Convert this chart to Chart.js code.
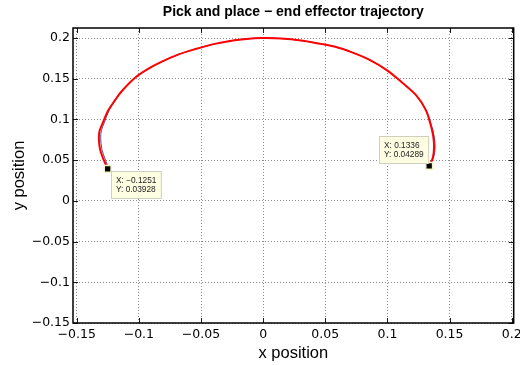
<!DOCTYPE html>
<html>
<head>
<meta charset="utf-8">
<script src="https://cdn.jsdelivr.net/npm/chart.js@4"></script>
<style>
  html, body { margin: 0; padding: 0; background: #ffffff; }
  #wrap { width: 520px; height: 365px; }
</style>
</head>
<body>
<div id="wrap"><canvas id="c" width="520" height="365"></canvas></div>
<script>
// ---- data ----
const actualX = [-0.1251, -0.1282, -0.1312, -0.1322, -0.1316, -0.1292, -0.1247, -0.1190, -0.1140, -0.1033, -0.0926, -0.0819, -0.0685, -0.0551, -0.0390, -0.0230, -0.0070, 0.0010, 0.0144, 0.0305, 0.0465, 0.0572, 0.0693, 0.0853, 0.1000, 0.1120, 0.1232, 0.1308, 0.1345, 0.1368, 0.1375, 0.1365, 0.1336];
const actualY = [0.0393, 0.0500, 0.0630, 0.0770, 0.0860, 0.0953, 0.1110, 0.1240, 0.1343, 0.1509, 0.1620, 0.1706, 0.1796, 0.1862, 0.1928, 0.1973, 0.1998, 0.2000, 0.1994, 0.1969, 0.1928, 0.1895, 0.1837, 0.1735, 0.1600, 0.1450, 0.1295, 0.1117, 0.0950, 0.0800, 0.0660, 0.0530, 0.0429];

const desiredX = [-0.1244, -0.1268, -0.1297, -0.1307, -0.1302, -0.1280, -0.1240, -0.1186, -0.1140, -0.1033, -0.0926, -0.0819, -0.0685, -0.0551, -0.0390, -0.0230, -0.0070, 0.0010, 0.0144, 0.0305, 0.0465, 0.0572, 0.0693, 0.0853, 0.1000, 0.1120, 0.1232, 0.1310, 0.1350, 0.1375, 0.1383, 0.1371, 0.1339];
const desiredY = [0.0398, 0.0500, 0.0630, 0.0770, 0.0860, 0.0953, 0.1110, 0.1240, 0.1343, 0.1509, 0.1620, 0.1706, 0.1796, 0.1862, 0.1928, 0.1973, 0.1998, 0.2000, 0.1994, 0.1969, 0.1928, 0.1895, 0.1837, 0.1735, 0.1600, 0.1450, 0.1295, 0.1117, 0.0950, 0.0800, 0.0660, 0.0530, 0.0431];

const tipX = [-0.1251, 0.1336];
const tipY = [0.03928, 0.04289];

const xTicks = [-0.15, -0.1, -0.05, 0, 0.05, 0.1, 0.15, 0.2];
const yTicks = [-0.15, -0.1, -0.05, 0, 0.05, 0.1, 0.15, 0.2];
const xTickLabels = ['\u22120.15', '\u22120.1', '\u22120.05', '0', '0.05', '0.1', '0.15', '0.2'];
const yTickLabels = ['\u22120.15', '\u22120.1', '\u22120.05', '0', '0.05', '0.1', '0.15', '0.2'];

const titleText = 'Pick and place \u2212 end effector trajectory';
const xTitle = 'x position';
const yTitle = 'y position';

// ---- helpers ----
const pts = (xs, ys) => xs.map((x, i) => ({ x: x, y: ys[i] }));
const fmt = v => String(v).replace('-', '\u2212');

const frameAndTicks = {
  id: 'frameAndTicks',
  afterDatasetsDraw(chart) {
    const { ctx, chartArea: a, scales: { x, y } } = chart;
    ctx.save();
    ctx.strokeStyle = '#1a1a1a';
    ctx.lineWidth = 1;
    ctx.beginPath();
    xTicks.forEach(v => {
      const px = Math.round(x.getPixelForValue(v)) + 0.5;
      ctx.moveTo(px, a.bottom); ctx.lineTo(px, a.bottom - 5);
      ctx.moveTo(px, a.top); ctx.lineTo(px, a.top + 5);
    });
    yTicks.forEach(v => {
      const py = Math.round(y.getPixelForValue(v)) + 0.5;
      ctx.moveTo(a.left, py); ctx.lineTo(a.left + 5, py);
      ctx.moveTo(a.right, py); ctx.lineTo(a.right - 5, py);
    });
    ctx.stroke();
    ctx.lineWidth = 1.5;
    ctx.strokeStyle = '#000';
    ctx.strokeRect(a.left, a.top, a.right - a.left, a.bottom - a.top);
    ctx.restore();
  }
};

const dataTips = {
  id: 'dataTips',
  afterDraw(chart) {
    const { ctx, scales: { x, y } } = chart;
    ctx.save();
    ctx.font = '8.3px "Liberation Sans", Arial, sans-serif';
    ctx.textBaseline = 'middle';
    ctx.textAlign = 'left';
    tipX.forEach((v, i) => {
      const px = x.getPixelForValue(v);
      const py = y.getPixelForValue(tipY[i]);
      const l1 = 'X: ' + fmt(tipX[i]);
      const l2 = 'Y: ' + fmt(tipY[i]);
      const w = Math.max(ctx.measureText(l1).width, ctx.measureText(l2).width) + 9.5;
      const h = 27;
      let bx, by;
      if (i === 0) { bx = px + 3; by = py + 2; }
      else { bx = px - 1 - w; by = py - 3 - h; }
      bx = Math.round(bx) + 0.5; by = Math.round(by) + 0.5;
      ctx.fillStyle = '#fdfde2';
      ctx.fillRect(bx, by, w, h);
      ctx.strokeStyle = '#cfcfbf';
      ctx.lineWidth = 1;
      ctx.strokeRect(bx, by, w, h);
      ctx.fillStyle = '#222';
      ctx.fillText(l1, bx + 4.5, by + 9);
      ctx.fillText(l2, bx + 4.5, by + 18.5);
    });
    ctx.restore();
  }
};

const tickFont = { family: '"DejaVu Sans", sans-serif', size: 12.5 };
const labelFont = { family: '"Liberation Sans", Arial, sans-serif', size: 16.5 };

new Chart(document.getElementById('c'), {
  type: 'scatter',
  data: {
    datasets: [
      {
        label: 'data tips',
        data: pts(tipX, tipY),
        pointStyle: 'rect',
        pointRadius: 4.8,
        backgroundColor: '#000000',
        borderColor: '#f3f3c4',
        borderWidth: 1.5,
        showLine: false,
        order: 0
      },
      {
        label: 'actual',
        data: pts(actualX, actualY),
        showLine: true,
        borderColor: '#ff0000',
        borderWidth: 2,
        pointRadius: 0,
        tension: 0.35,
        order: 1
      },
      {
        label: 'desired',
        data: pts(desiredX, desiredY),
        showLine: true,
        borderColor: '#5a4a9a',
        borderWidth: 1,
        pointRadius: 0,
        tension: 0.35,
        order: 2
      }
    ]
  },
  options: {
    responsive: false,
    animation: false,
    devicePixelRatio: 1,
    layout: { padding: { left: 0, right: 5, top: 0, bottom: 0 } },
    plugins: {
      legend: { display: false },
      tooltip: { enabled: false },
      title: {
        display: true,
        text: titleText,
        fullSize: false,
        color: '#000',
        font: { family: '"Liberation Sans", Arial, sans-serif', size: 14, weight: 'bold' },
        padding: { top: 3.6, bottom: 7.6 }
      }
    },
    scales: {
      x: {
        type: 'linear',
        min: -0.153,
        max: 0.2016,
        afterBuildTicks: s => { s.ticks = xTicks.map(v => ({ value: v })); },
        afterFit: s => { s.height = 42; s.paddingLeft = 0; s.paddingRight = 0; },
        ticks: {
          callback: (v, i) => xTickLabels[i],
          color: '#000',
          font: tickFont,
          padding: 4,
          maxRotation: 0,
          autoSkip: false
        },
        grid: { color: '#8c8c8c', lineWidth: 1, drawTicks: false },
        border: { display: false, dash: [1, 2] },
        title: { display: true, text: xTitle, color: '#000', font: labelFont, padding: { top: 0, bottom: 2 } }
      },
      y: {
        type: 'linear',
        min: -0.15,
        max: 0.2123,
        afterBuildTicks: s => { s.ticks = yTicks.map(v => ({ value: v })); },
        afterFit: s => { s.width = 73; s.paddingTop = 0; s.paddingBottom = 0; },
        ticks: {
          callback: (v, i) => yTickLabels[i],
          color: '#000',
          font: tickFont,
          padding: 3,
          autoSkip: false
        },
        grid: { color: '#8c8c8c', lineWidth: 1, drawTicks: false },
        border: { display: false, dash: [1, 2] },
        title: { display: true, text: yTitle, color: '#000', font: labelFont, padding: { top: 9.3, bottom: 0 } }
      }
    }
  },
  plugins: [frameAndTicks, dataTips]
});
</script>
</body>
</html>
